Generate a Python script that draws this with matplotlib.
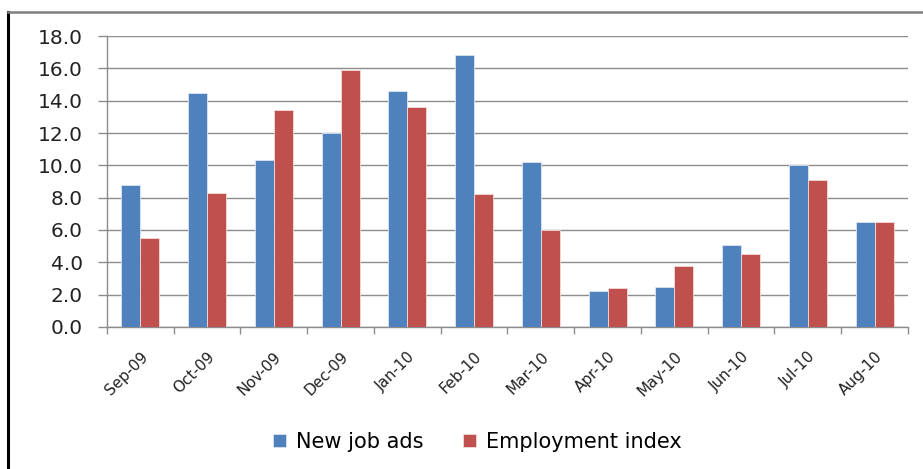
import numpy as np
import matplotlib.pyplot as plt
from matplotlib.lines import Line2D

months = ['Sep-09', 'Oct-09', 'Nov-09', 'Dec-09', 'Jan-10', 'Feb-10',
          'Mar-10', 'Apr-10', 'May-10', 'Jun-10', 'Jul-10', 'Aug-10']
new_job_ads = [8.8, 14.5, 10.3, 12.0, 14.6, 16.8, 10.2, 2.2, 2.5, 5.1, 10.0, 6.5]
employment_index = [5.5, 8.3, 13.4, 15.9, 13.6, 8.2, 6.0, 2.4, 3.8, 4.5, 9.1, 6.5]
y_ticks = np.arange(0, 18.1, 2.0)

blue = '#4F81BD'
red = '#C0504D'

fig = plt.figure(figsize=(9.23, 4.69), dpi=100)
ax = fig.add_axes([0.1159, 0.3028, 0.8678, 0.6204])

x = np.arange(len(months))
w = 0.285
ax.bar(x - w / 2, new_job_ads, w, color=blue, edgecolor='#DCE6F2',
       linewidth=0.6, label='New job ads', zorder=3)
ax.bar(x + w / 2, employment_index, w, color=red, edgecolor='#F2DCDB',
       linewidth=0.6, label='Employment index', zorder=3)

ax.set_xlim(-0.5, len(months) - 0.5)
ax.set_ylim(0, 18)
ax.set_yticks(y_ticks)
ax.set_yticklabels(['%.1f' % v for v in y_ticks], fontsize=14.5, color='#222222')
ax.yaxis.grid(True, color='#8C8C8C', linewidth=1.0, zorder=0)

# category boundaries carry the tick marks, labels sit at the centres
ax.set_xticks(np.arange(-0.5, len(months), 1.0))
ax.set_xticklabels([])
ax.set_xticks(x, minor=True)
ax.set_xticklabels(months, minor=True, rotation=45, ha='right',
                   rotation_mode='anchor', fontsize=11, color='#222222')
ax.tick_params(axis='x', which='minor', length=0, pad=16)
ax.tick_params(axis='x', which='major', length=5, color='#8C8C8C', width=1)
ax.tick_params(axis='y', length=6.5, color='#8C8C8C', width=1, pad=11)

for side in ['top', 'right']:
    ax.spines[side].set_visible(False)
for side in ['left', 'bottom']:
    ax.spines[side].set_color('#8C8C8C')
    ax.spines[side].set_linewidth(1.0)

ax.legend(loc='center', bbox_to_anchor=(0.517, 0.058), bbox_transform=fig.transFigure,
          ncol=2, frameon=False, handlelength=0.65, handleheight=0.65,
          handletextpad=0.45, columnspacing=1.9,
          prop={'size': 15})

# outer frame: dark left edge, grey top edge
fig.add_artist(Line2D([0.0087, 0.0087], [0, 0.974], color='black', linewidth=2.2,
                      transform=fig.transFigure))
fig.add_artist(Line2D([0.0087, 1.0], [0.974, 0.974], color='#7F7F7F', linewidth=1.8,
                      transform=fig.transFigure))

fig.savefig('out.png', dpi=100)
